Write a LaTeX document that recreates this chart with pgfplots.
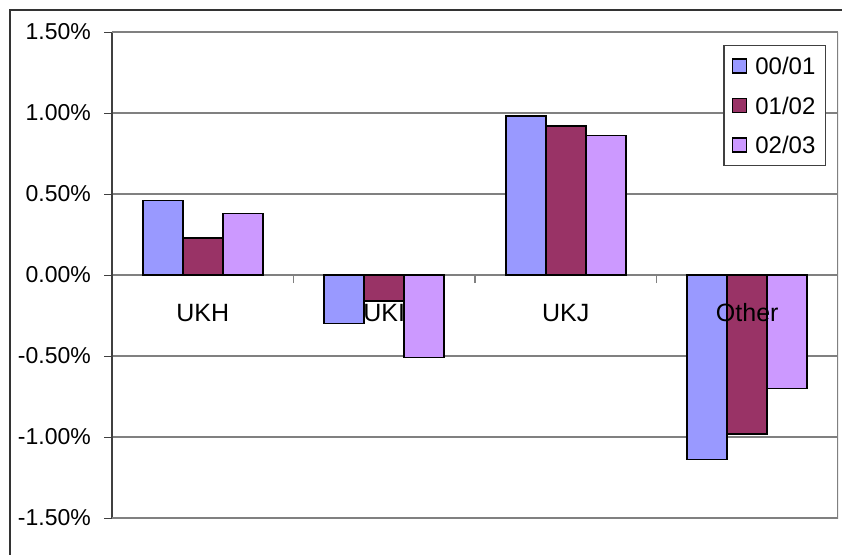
\documentclass[border=0pt]{standalone}
\usepackage{pgfplots}
\pgfplotsset{compat=1.18}
\usepackage{fontspec}
\setmainfont{Liberation Sans}
\definecolor{c1}{HTML}{9999FF}
\definecolor{c2}{HTML}{993366}
\definecolor{c3}{HTML}{CC99FF}
\definecolor{gridg}{HTML}{808080}
\definecolor{axdark}{HTML}{404040}
\tikzset{catlab/.style={font=\fontsize{25}{29}\selectfont, inner sep=0pt, text height=18pt, text depth=0pt, anchor=north, yshift=-28pt}}
\begin{document}
\begin{tikzpicture}[x=1pt,y=1pt]
\path[use as bounding box] (0,0) rectangle (842,-554);
\draw[line width=2pt, color=black!80] (10,-556) -- (10,-10) -- (844,-10);
\begin{axis}[
  at={(112pt,-32pt)}, anchor=north west,
  scale only axis, width=726pt, height=486pt,
  xmin=-0.5, xmax=3.5, ymin=-1.5, ymax=1.5,
  axis x line*=middle, axis y line*=left,
  x axis line style={gridg, line width=1.2pt, -},
  y axis line style={axdark, line width=1.5pt, -},
  ytick={-1.5,-1,-0.5,0,0.5,1,1.5},
  ymajorgrids, grid style={gridg, line width=1.2pt},
  ytick style={axdark, line width=1pt},
  ytick align=outside, major tick length=8pt,
  /pgf/number format/assume math mode=true,
  yticklabel={\pgfmathprintnumber[fixed,fixed zerofill,precision=2]{\tick}\%},
  yticklabel style={font=\fontsize{23}{27}\selectfont, inner sep=0pt, xshift=-13pt},
  xtick={0.5,1.5,2.5},
  xticklabels={},
  xtick style={draw=gridg, line width=1.2pt},
  xtick align=outside,
  ybar=0pt, bar width=40pt,
  every axis plot/.append style={draw=black, line width=1.6pt},
  legend image code/.code={\draw[#1, draw=black, line width=1.3pt] (0pt,-7pt) rectangle (14pt,7pt); \path (20pt,0pt);},
  legend cell align=left,
  legend style={at={(0.9835,0.9733)}, anchor=north east, draw=axdark, line width=1.2pt,
    font=\fontsize{24}{28}\selectfont, inner xsep=8pt, inner ysep=10pt, row sep=18.5pt,
    nodes={inner sep=2pt, text height=17pt, text depth=0pt}},
]
\addplot[fill=c1] coordinates {(0,0.46) (1,-0.30) (2,0.98) (3,-1.14)};
\addplot[fill=c2] coordinates {(0,0.23) (1,-0.16) (2,0.92) (3,-0.98)};
\addplot[fill=c3] coordinates {(0,0.38) (1,-0.51) (2,0.86) (3,-0.70)};
\legend{00/01,01/02,02/03}
\draw[gridg, line width=1.5pt] (rel axis cs:0,1) -- (rel axis cs:1,1) -- (rel axis cs:1,0) -- (rel axis cs:0,0);
\node[catlab] at (axis cs:0,0) {UKH};
\node[catlab] at (axis cs:1,0) {UKI};
\node[catlab] at (axis cs:2,0) {UKJ};
\node[catlab] at (axis cs:3,0) {Other};
\end{axis}
\end{tikzpicture}
\end{document}
